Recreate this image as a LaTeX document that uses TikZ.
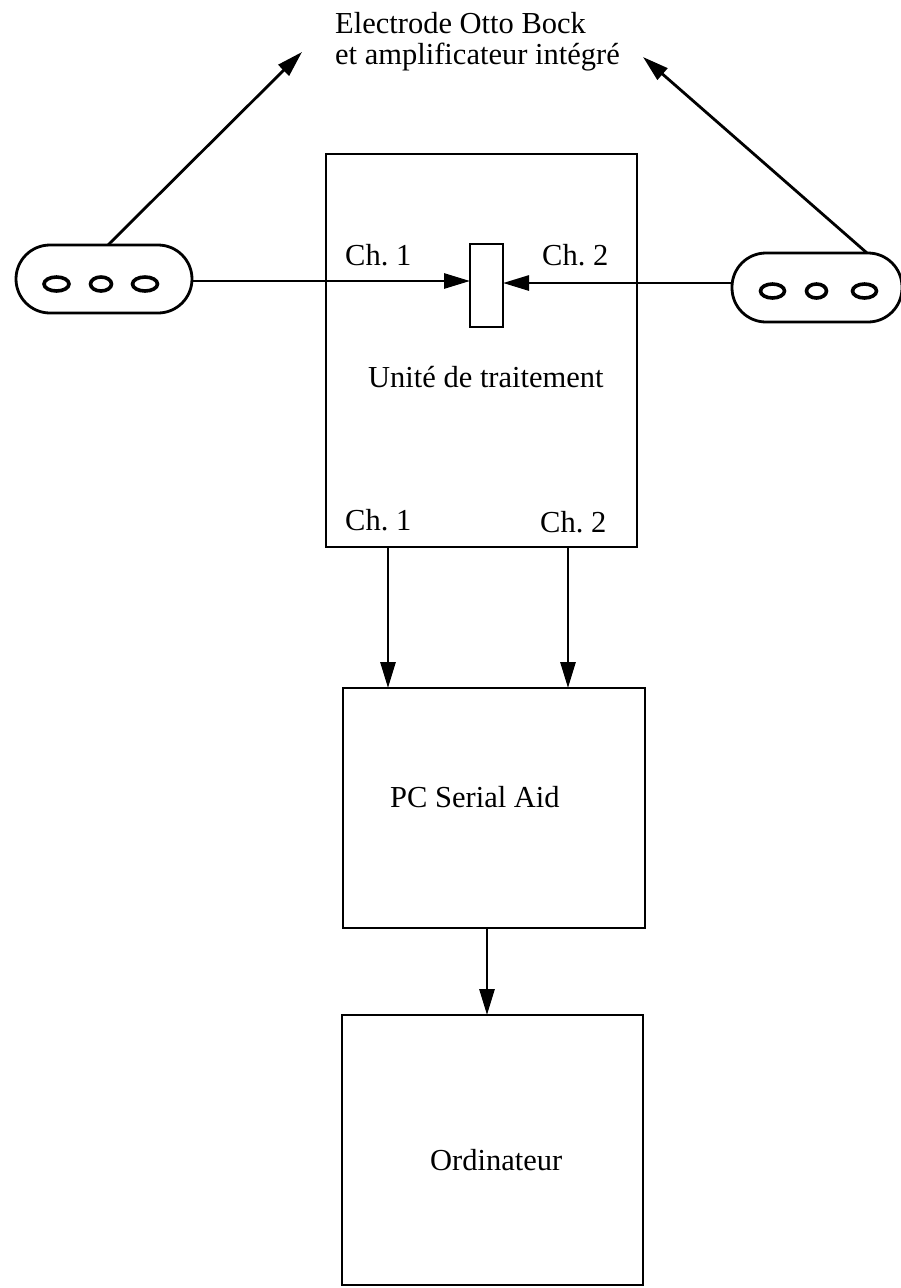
\documentclass[tikz,border=0pt]{standalone}
\usepackage{fontspec}
\setmainfont{Liberation Serif}
\usetikzlibrary{arrows.meta}
\frenchspacing
\begin{document}
\begin{tikzpicture}[x=1pt,y=-1pt,
  lw/.style={line width=2.8pt},
  box/.style={draw,lw,inner sep=0pt,outer sep=0pt},
  electrode/.style={draw,lw,rounded corners=34pt,inner sep=0pt,outer sep=0pt},
  hole/.style={line width=3.6pt},
  arr/.style={lw,-{Triangle[length=26pt,width=15pt]}},
  lbl/.style={font=\fontsize{30.5}{34}\selectfont,inner sep=0pt,anchor=base west}]
\useasboundingbox (0,0) rectangle (901,1288);
% boxes
\node[box,minimum width=311pt,minimum height=393pt] (main) at (481.5,350.5) {};
\node[box,minimum width=33pt,minimum height=83pt] (sm) at (486.5,285.5) {};
\node[box,minimum width=302pt,minimum height=240pt] (pc) at (494,808) {};
\node[box,minimum width=301pt,minimum height=270pt] (ord) at (492.5,1150) {};
% electrodes
\node[electrode,minimum width=176pt,minimum height=68pt] (elL) at (104,279) {};
\node[electrode,minimum width=170pt,minimum height=69pt] (elR) at (817,287.5) {};
\draw[hole] (56.5,284) ellipse (12.5pt and 7pt);
\draw[hole] (101,284) ellipse (10.5pt and 7pt);
\draw[hole] (145,284) ellipse (12.5pt and 7pt);
\draw[hole] (772.5,291) ellipse (12pt and 7pt);
\draw[hole] (816.5,291) ellipse (10pt and 7pt);
\draw[hole] (864.5,291) ellipse (12pt and 7pt);
% labels
\node[lbl] (t1) at (335,33) {Electrode Otto Bock};
\node[lbl] (t2) at (335,64) {et amplificateur intégré};
\node[lbl] (c1a) at (345,265) {Ch. 1};
\node[lbl] (c2a) at (542,265) {Ch. 2};
\node[lbl] (ut) at (368,387) {Unité de traitement};
\node[lbl] (c1b) at (345,530) {Ch. 1};
\node[lbl] (c2b) at (540,532) {Ch. 2};
\node[lbl] (pct) at (390,807) {PC Serial Aid};
\node[lbl] (ordt) at (430,1170) {Ordinateur};
% arrow endpoints
\coordinate (tipL) at (302,52);
\coordinate (tipR) at (643,57);
\coordinate (x1) at (388,0);
\coordinate (x2) at (568,0);
\coordinate (x3) at (487,0);
% connectors
\draw[arr] ([xshift=4pt]elL.north) -- (tipL);
\draw[arr] ([xshift=50pt]elR.north) -- (tipR);
\draw[arr] ([yshift=-2pt]elL.east) -- ([yshift=-2pt]elL.east -| sm.west);
\draw[arr] ([yshift=4.5pt]elR.west) -- ([yshift=4.5pt]elR.west -| sm.east);
\draw[arr] (main.south -| x1) -- (pc.north -| x1);
\draw[arr] (main.south -| x2) -- (pc.north -| x2);
\draw[arr] (pc.south -| x3) -- (ord.north -| x3);
\end{tikzpicture}
\end{document}
